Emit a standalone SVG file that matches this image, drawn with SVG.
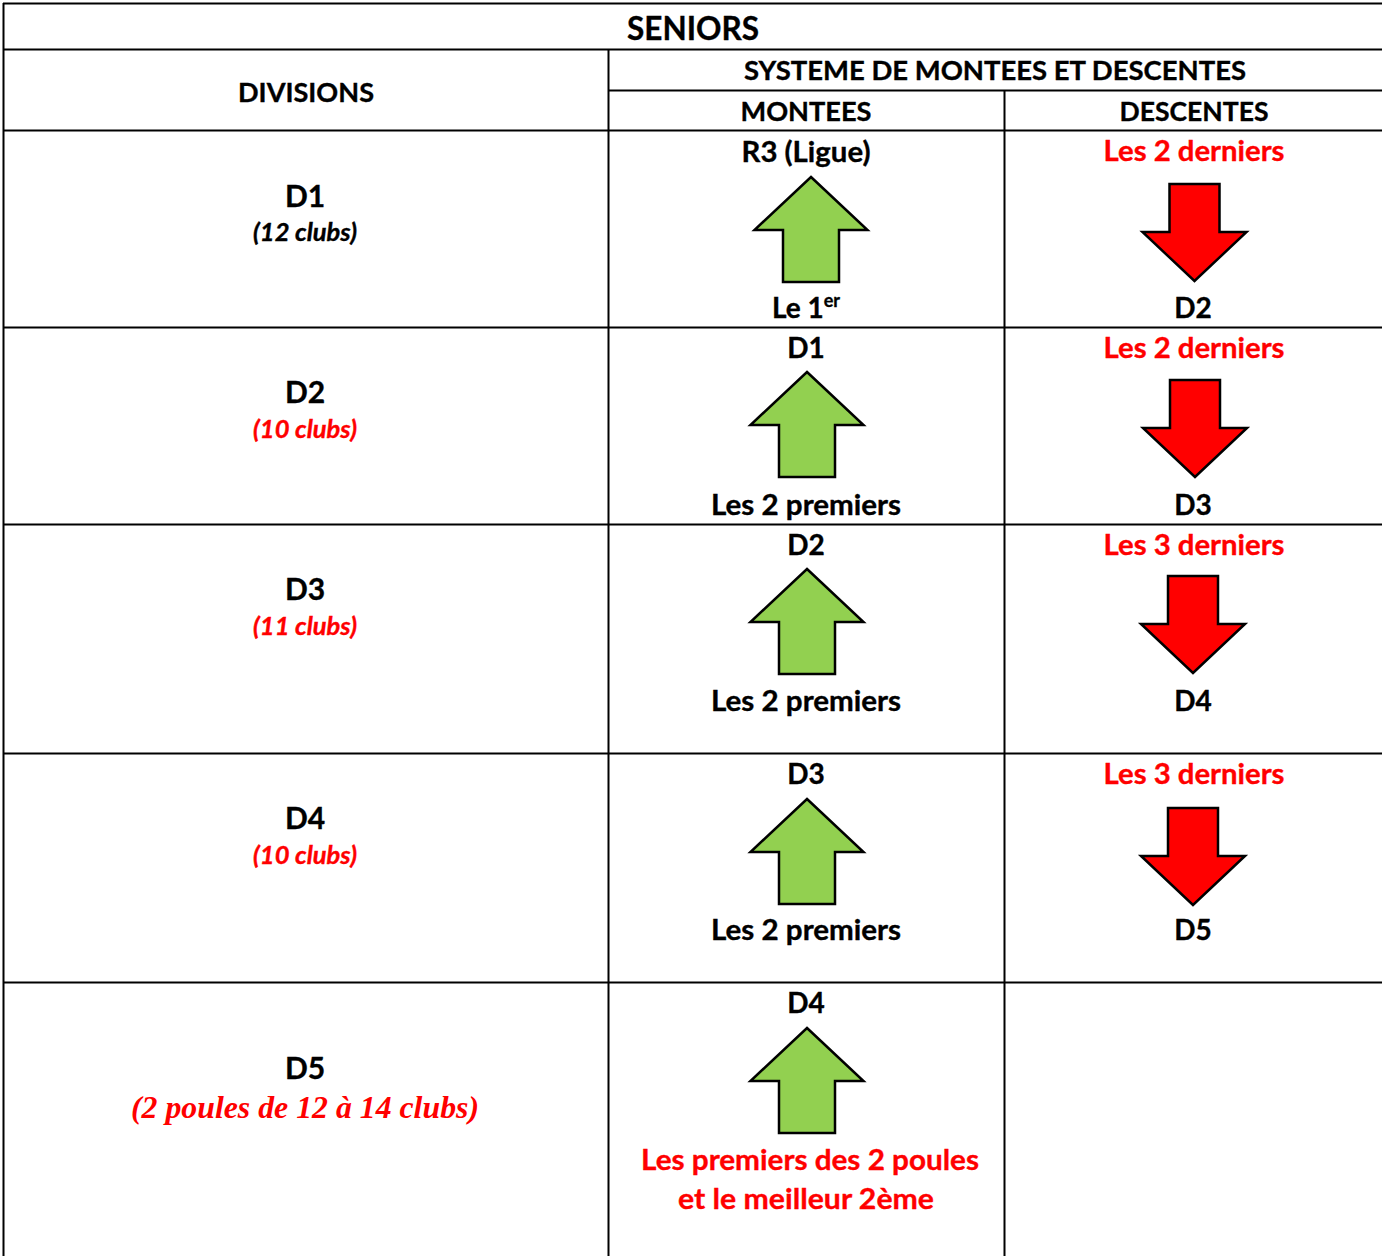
<svg xmlns="http://www.w3.org/2000/svg" width="1382" height="1256" viewBox="0 0 1382 1256">
<style>
.t{font-family:Lato,"Liberation Sans",sans-serif;font-weight:bold;text-anchor:middle;fill:#000;stroke:#000;stroke-width:0.35}
.h1{font-size:32px}
.h{font-size:27px}
.b{font-size:28px}
.d{font-size:30px}
.c{font-size:24px;font-style:italic}
.r{fill:#FF0000;stroke:#FF0000}
.tm{font-family:"Liberation Serif",serif;font-weight:bold;font-style:italic;font-size:31px;text-anchor:middle;fill:#FF0000}
.g line{stroke:#000;stroke-width:2}
.up{fill:#92D050;stroke:#000;stroke-width:2.5;stroke-linejoin:miter}
.dn{fill:#FF0000;stroke:#000;stroke-width:2.5;stroke-linejoin:miter}
</style>
<defs>
<path id="upArrow" d="M0,0 L56.5,53 L28,53 L28,105 L-28,105 L-28,53 L-56.5,53 Z"/>
<path id="dnArrow" d="M-25,0 L25,0 L25,48 L52,48 L0,97 L-52,48 L-25,48 Z"/>
</defs>
<rect x="0" y="0" width="1382" height="1256" fill="#fff"/>
<g id="grid" class="g">
<line x1="3" y1="3.5" x2="1382" y2="3.5"/>
<line x1="3.5" y1="3" x2="3.5" y2="1256"/>
<line x1="3" y1="49.5" x2="1382" y2="49.5"/>
<line x1="608" y1="90.5" x2="1382" y2="90.5"/>
<line x1="3" y1="130.5" x2="1382" y2="130.5"/>
<line x1="3" y1="327.5" x2="1382" y2="327.5"/>
<line x1="3" y1="524.5" x2="1382" y2="524.5"/>
<line x1="3" y1="753.5" x2="1382" y2="753.5"/>
<line x1="3" y1="982.5" x2="1382" y2="982.5"/>
<line x1="608.5" y1="49" x2="608.5" y2="1256"/>
<line x1="1004.5" y1="90" x2="1004.5" y2="1256"/>
</g>
<g id="header">
<text class="t h1" x="693" y="40" textLength="132" lengthAdjust="spacingAndGlyphs">SENIORS</text>
<text class="t h" x="306" y="102" textLength="136" lengthAdjust="spacingAndGlyphs">DIVISIONS</text>
<text class="t h" x="995" y="80" textLength="502" lengthAdjust="spacingAndGlyphs">SYSTEME DE MONTEES ET DESCENTES</text>
<text class="t h" x="806" y="121" textLength="131" lengthAdjust="spacingAndGlyphs">MONTEES</text>
<text class="t h" x="1194" y="121" textLength="149" lengthAdjust="spacingAndGlyphs">DESCENTES</text>
</g>
<g id="d1">
<text class="t d" x="305" y="207">D1</text>
<text class="t c" x="305" y="241" textLength="104" lengthAdjust="spacingAndGlyphs">(12 clubs)</text>
<text class="t b" x="806" y="162" textLength="129" lengthAdjust="spacingAndGlyphs">R3 (Ligue)</text>
<text class="t b r" x="1194" y="161" textLength="181" lengthAdjust="spacingAndGlyphs">Les 2 derniers</text>
<text class="t b" x="806" y="318">Le 1<tspan font-size="18" dy="-11">er</tspan></text>
<text class="t b" x="1193" y="318">D2</text>
</g>
<g id="d2">
<text class="t d" x="305" y="403">D2</text>
<text class="t c r" x="305" y="438" textLength="104" lengthAdjust="spacingAndGlyphs">(10 clubs)</text>
<text class="t b" x="806" y="358">D1</text>
<text class="t b r" x="1194" y="358" textLength="181" lengthAdjust="spacingAndGlyphs">Les 2 derniers</text>
<text class="t b" x="806" y="515" textLength="190" lengthAdjust="spacingAndGlyphs">Les 2 premiers</text>
<text class="t b" x="1193" y="515">D3</text>
</g>
<g id="d3">
<text class="t d" x="305" y="600">D3</text>
<text class="t c r" x="305" y="635" textLength="104" lengthAdjust="spacingAndGlyphs">(11 clubs)</text>
<text class="t b" x="806" y="555">D2</text>
<text class="t b r" x="1194" y="555" textLength="181" lengthAdjust="spacingAndGlyphs">Les 3 derniers</text>
<text class="t b" x="806" y="711" textLength="190" lengthAdjust="spacingAndGlyphs">Les 2 premiers</text>
<text class="t b" x="1193" y="711">D4</text>
</g>
<g id="d4">
<text class="t d" x="305" y="829">D4</text>
<text class="t c r" x="305" y="864" textLength="104" lengthAdjust="spacingAndGlyphs">(10 clubs)</text>
<text class="t b" x="806" y="784">D3</text>
<text class="t b r" x="1194" y="784" textLength="181" lengthAdjust="spacingAndGlyphs">Les 3 derniers</text>
<text class="t b" x="806" y="940" textLength="190" lengthAdjust="spacingAndGlyphs">Les 2 premiers</text>
<text class="t b" x="1193" y="940">D5</text>
</g>
<g id="d5">
<text class="t d" x="305" y="1079">D5</text>
<text class="tm" x="305" y="1118" textLength="348" lengthAdjust="spacingAndGlyphs">(2 poules de 12 à 14 clubs)</text>
<text class="t b" x="806" y="1013">D4</text>
<text class="t b r" x="810" y="1170" textLength="338" lengthAdjust="spacingAndGlyphs">Les premiers des 2 poules</text>
<text class="t b r" x="806" y="1209" textLength="256" lengthAdjust="spacingAndGlyphs">et le meilleur 2ème</text>
</g>
<g id="connectors">
<use href="#upArrow" class="up" x="811" y="177"/>
<use href="#upArrow" class="up" x="807" y="372"/>
<use href="#upArrow" class="up" x="807" y="569"/>
<use href="#upArrow" class="up" x="807" y="799"/>
<use href="#upArrow" class="up" x="807" y="1028"/>
<use href="#dnArrow" class="dn" x="1194.5" y="184"/>
<use href="#dnArrow" class="dn" x="1195" y="380"/>
<use href="#dnArrow" class="dn" x="1193" y="576"/>
<use href="#dnArrow" class="dn" x="1193" y="808"/>
</g>
</svg>
